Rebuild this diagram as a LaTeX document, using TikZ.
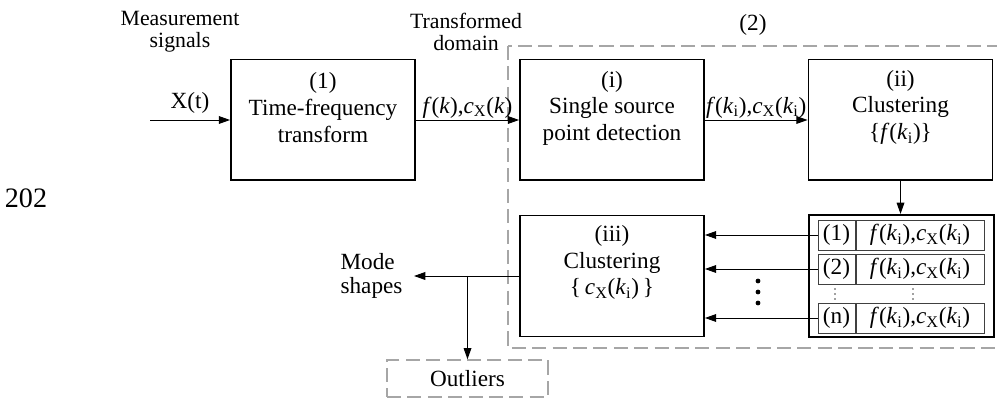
\documentclass[tikz,border=0pt]{standalone}
\usepackage{fontspec}
\setmainfont{Liberation Serif}
\usetikzlibrary{arrows.meta,positioning,calc}

\newcommand{\fkcx}{\textit{f}(\textit{k}),\textit{c}\textsubscript{X}(\textit{k})}
\newcommand{\fkicx}{\textit{f}(\textit{k}\textsubscript{i}),\textit{c}\textsubscript{X}(\textit{k}\textsubscript{i})}

\tikzset{
  block/.style={draw, line width=1.3pt, minimum width=4.6cm, minimum height=3.02cm, inner sep=0pt},
  blocktext/.style={align=center, inner sep=0pt, font=\fontsize{16.5}{19}\selectfont},
  toplabel/.style={align=center, font=\fontsize{15.5}{15.5}\selectfont},
  flow/.style={-{Triangle[length=8pt,width=5.5pt]}, line width=0.7pt},
  grpbox/.style={draw=gray!70, line width=1pt, dash pattern=on 10pt off 4.5pt},
  cellnum/.style={draw=black!75, line width=0.7pt, minimum width=0.925cm, minimum height=0.75cm, inner sep=0pt},
  cellval/.style={cellnum, minimum width=3.2cm},
}

\begin{document}
\begin{tikzpicture}[x=0.025cm, y=-0.025cm, font=\fontsize{16.5}{19}\selectfont]
  \useasboundingbox (0,0) rectangle (997,398);

  % labels on top
  \node[toplabel] (meas) at (180,32) {Measurement\\signals};
  \node[toplabel] (trdom) at (466,32) {Transformed\\domain};
  \node (stray) at (26,198) {\fontsize{20}{24}\selectfont 202};

  % group (2)
  \draw[grpbox] (508,46) rectangle (1003,348);
  \node (grplabel) at (753,25) {(2)};

  % blocks
  \node[block] (tf) at (323,120) {};
  \node[block] (ssp) at (612,120) {};
  \node[block] (clf) at (900.5,120) {};
  \node[block] (clc) at (612,276) {};
  \node[block, line width=1.5pt, minimum width=4.62cm, minimum height=3.05cm] (lst) at (901.5,276) {};

  \node[blocktext, below=0.34cm of tf.north] (tftext) {(1)\\Time-frequency\\transform};
  \node[blocktext, below=0.3cm of ssp.north] (ssptext) {(i)\\Single source\\point detection};
  \node[blocktext, below=0.28cm of clf.north] (clftext) {(ii)\\Clustering\\\{\textit{f}(\textit{k}\textsubscript{i})\}};
  \node[blocktext, below=0.26cm of clc.north] (clctext) {(iii)\\Clustering\\\{\,\textit{c}\textsubscript{X}(\textit{k}\textsubscript{i})\,\}};

  % signal flow
  \coordinate (xin) at (150,120);
  \draw[flow] (xin) -- node[above, inner sep=4pt] {X(t)} (tf.west);
  \draw[flow] (tf.east) -- node[above, inner sep=1pt] {\fkcx} (ssp.west);
  \draw[flow] (ssp.east) -- node[above, inner sep=1pt] {\fkicx} (clf.west);
  \draw[flow] (clf.south) -- (clf.south |- lst.north);

  % list of clusters
  \foreach \n/\yy in {1/235,2/269,n/318}{
    \node[cellnum] (num\n) at (836.5,\yy) {(\n)};
    \node[cellval, right=0pt of num\n] (val\n) {\fkicx};
    \draw[flow] (num\n.west) -- (clc.east |- num\n.west);
  }
  \foreach \xx in {835,913}
    \foreach \yy in {289,294,299}
      \fill[black!75] (\xx,\yy) circle (0.02cm);
  \foreach \yy in {281,292,303}
    \fill (758,\yy) circle (0.06cm);

  % outputs
  \node[align=left, anchor=east, inner xsep=8pt, font=\fontsize{16.5}{17.5}\selectfont] (mode) at (414,276) {Mode\\shapes};
  \node[grpbox, minimum width=4.025cm, minimum height=0.925cm] (outl) at (467.5,378.5) {Outliers};
  \draw[flow] (clc.west) -- (mode.east);
  \draw[flow] (outl.north |- clc.west) -- (outl.north);
\end{tikzpicture}
\end{document}
